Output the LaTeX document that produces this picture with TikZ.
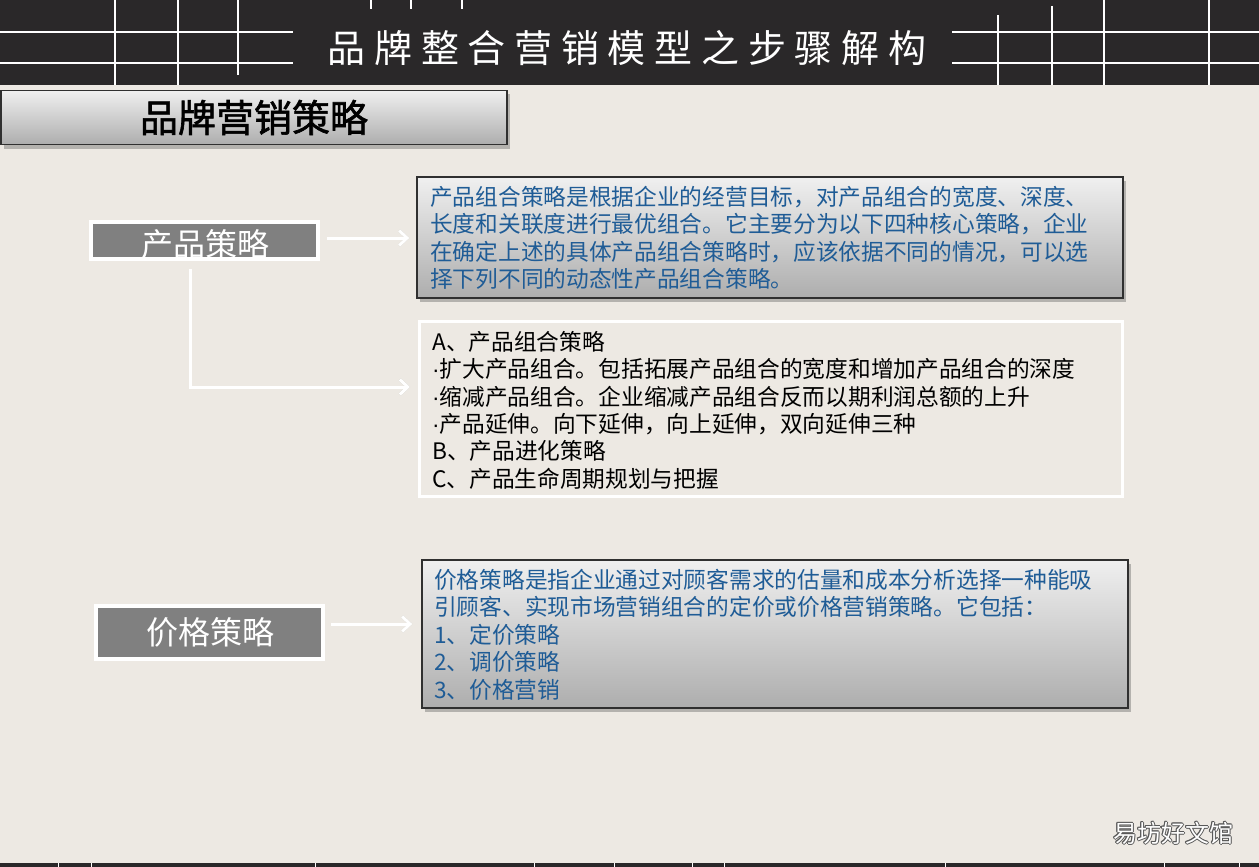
\documentclass[tikz,border=0pt]{standalone}
\usepackage{fontspec}
\setmainfont{Noto Sans CJK SC}
\newfontfamily\cjk{Noto Sans CJK SC}
\newfontfamily\cjkbar[FakeBold=1.6]{Noto Sans CJK SC}
\newfontfamily\latinf{Liberation Sans}
\newfontfamily\titlecjk[LetterSpace=23]{Noto Sans CJK SC}
\newcommand{\mdot}{{\latinf ·}}
\usetikzlibrary{arrows.meta,shadows,calc}
\definecolor{bg}{HTML}{EDE9E3}
\definecolor{hdr}{HTML}{2A2829}
\definecolor{txtblue}{HTML}{1F5C96}
\definecolor{lblgray}{HTML}{808080}
\definecolor{boxedge}{HTML}{303030}
\tikzset{
  gradbox/.style={rectangle, draw=boxedge, line width=1.3pt, top color=white!94!black, bottom color=white!68!black,
    drop shadow={shadow xshift=3pt, shadow yshift=-4pt, opacity=0.35, fill=black!70}, inner sep=0pt},
  plainbox/.style={rectangle, draw=white, line width=3pt, fill=bg, inner sep=0pt},
  labelbox/.style={rectangle, draw=white, line width=4pt, fill=lblgray, inner sep=0pt, minimum width=227pt},
  labeltext/.style={text=white, font=\cjk\fontsize{32}{32}\selectfont, inner sep=0pt},
  bodytext/.style={anchor=north west, align=left, inner sep=0pt, font=\cjk\fontsize{22.7}{27.4}\selectfont},
  wline/.style={draw=white, line width=2pt},
  warrow/.style={draw=white, line width=3pt, -{Straight Barb[length=8pt,width=15pt]}},
  sarrow/.style={draw=black!45, opacity=0.45, line width=3pt, -{Straight Barb[length=8pt,width=15pt]}},
}
\begin{document}
\begin{tikzpicture}[x=1pt,y=-1pt]
\useasboundingbox (0,0) rectangle (1259,867);
\fill[bg] (0,0) rectangle (1259,867);
% header band
\fill[hdr] (0,0) rectangle (1259,85);
\draw[wline] (0,32) -- (293,32);
\draw[wline] (0,63) -- (293,63);
\draw[wline] (952,32) -- (1259,32);
\draw[wline] (952,63) -- (1259,63);
\draw[wline] (115,0) -- (115,85);
\draw[wline] (178,0) -- (178,85);
\draw[wline] (238,0) -- (238,75);
\draw[wline] (371,0) -- (371,9);
\draw[wline] (411,0) -- (411,9);
\draw[wline] (462,0) -- (462,9);
\draw[wline] (998,15) -- (998,85);
\draw[wline] (1052,6) -- (1052,85);
\draw[wline] (1104,0) -- (1104,85);
\draw[wline] (1209,0) -- (1209,85);
\node[text=white, inner sep=0pt, font=\titlecjk\fontsize{38}{38}\selectfont] (title) at (627,48) {品牌整合营销模型之步骤解构};
% bottom strip
\fill[hdr] (0,863) rectangle (1259,867);
\foreach \gx in {58,91,315,534,614,692,724,945,1164,1239}
  \draw[white, line width=1pt] (\gx,863) -- (\gx,867);
% section bar
\node[gradbox, minimum width=506pt, minimum height=54pt, font=\cjkbar\fontsize{38}{38}\selectfont, text=black] (bar) at (254,117.5) {品牌营销策略};
% label boxes
\node[labelbox, minimum height=37pt] (prod) at (204.5,240.5) {};
\node[labeltext] (prodtxt) at (205,244) {产品策略};
\node[labelbox, minimum height=53pt] (price) at (209.5,632.5) {};
\node[labeltext] (pricetxt) at (210,632) {价格策略};
% content boxes
\node[gradbox, minimum width=706pt, minimum height=121pt] (box1) at (770,237.5) {};
\node[plainbox, minimum width=703pt, minimum height=175pt] (box2) at (771,409) {};
\node[gradbox, minimum width=706pt, minimum height=148pt] (box3) at (775,634) {};
\node[bodytext, text=txtblue] (t1) at (430,186) {产品组合策略是根据企业的经营目标，对产品组合的宽度、深度、\\长度和关联度进行最优组合。它主要分为以下四种核心策略，企业\\在确定上述的具体产品组合策略时，应该依据不同的情况，可以选\\择下列不同的动态性产品组合策略。};
\node[bodytext, text=black] (t2) at (432,331) {A、产品组合策略\\\mdot 扩大产品组合。包括拓展产品组合的宽度和增加产品组合的深度\\\mdot 缩减产品组合。企业缩减产品组合反而以期利润总额的上升\\\mdot 产品延伸。向下延伸，向上延伸，双向延伸三种\\B、产品进化策略\\C、产品生命周期规划与把握};
\node[bodytext, text=txtblue] (t3) at (434,569) {价格策略是指企业通过对顾客需求的估量和成本分析选择一种能吸\\引顾客、实现市场营销组合的定价或价格营销策略。它包括：\\1、定价策略\\2、调价策略\\3、价格营销};
% connectors
\coordinate (c2) at (190,387);
\begin{scope}[shift={(1.5,2.5)}]
\draw[sarrow, shorten <=7pt, shorten >=7pt] ([yshift=2.5pt]prod.east) -- ([yshift=2.5pt]prod.east -| box1.west);
\draw[sarrow, shorten <=8pt, shorten >=8pt] ([xshift=-14.5pt]prod.south) -- (c2) -- (c2 -| box2.west);
\draw[sarrow, shorten <=6pt, shorten >=9pt] ([yshift=8.5pt]price.east) -- ([yshift=8.5pt]price.east -| box3.west);
\end{scope}
\draw[warrow, shorten <=7pt, shorten >=7pt] ([yshift=2.5pt]prod.east) -- ([yshift=2.5pt]prod.east -| box1.west);
\draw[warrow, shorten <=8pt, shorten >=8pt] ([xshift=-14.5pt]prod.south) -- (c2) -- (c2 -| box2.west);
\draw[warrow, shorten <=6pt, shorten >=9pt] ([yshift=8.5pt]price.east) -- ([yshift=8.5pt]price.east -| box3.west);
% watermark
\foreach \dx/\dy in {-1/0,1/0,0/-1,0/1,-0.8/-0.8,0.8/0.8,-0.8/0.8,0.8/-0.8}
  \node[text=black!65, inner sep=0pt, font=\cjk\fontsize{24}{24}\selectfont] at ($(1173,833)+(\dx,\dy)$) {易坊好文馆};
\node[text=white, inner sep=0pt, font=\cjk\fontsize{24}{24}\selectfont] (wm) at (1173,833) {易坊好文馆};
\end{tikzpicture}
\end{document}
